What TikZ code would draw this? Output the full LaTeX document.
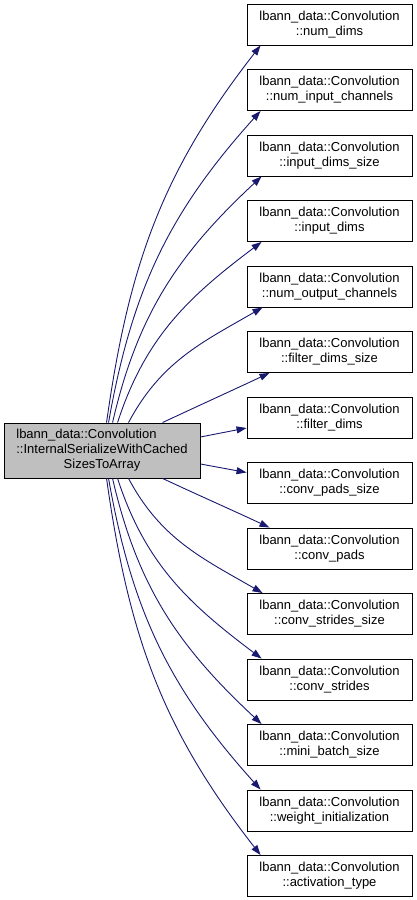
\documentclass[tikz,border=0pt]{standalone}
\usepackage{fontspec}
\setmainfont{Liberation Sans}
\usetikzlibrary{arrows.meta}
\definecolor{edgeblue}{HTML}{191970}
\definecolor{nodegray}{HTML}{BFBFBF}
\begin{document}
\begin{tikzpicture}[x=1pt,y=1pt,
  fnbox/.style={draw=black, line width=0.9pt, fill=white, minimum width=165pt, minimum height=41pt, inner sep=0pt, align=center, font=\fontsize{13}{15}\selectfont},
  mainbox/.style={fnbox, fill=nodegray, minimum width=196pt, minimum height=55pt},
  call/.style={draw=edgeblue, line width=0.9pt, -{Triangle[length=10pt,width=7pt,fill=edgeblue]}}]
\useasboundingbox (0,0) rectangle (416,900);
\node[mainbox] (L) at (102,449.5) {\begin{tabular}{@{}l@{}}lbann\_data::Convolution\\::InternalSerializeWithCached\\\multicolumn{1}{@{}c@{}}{SizesToArray}\end{tabular}};
\node[fnbox] (R0) at (329.5,875.5) {lbann\_data::Convolution\\::num\_dims};
\node[fnbox] (R1) at (329.5,810) {lbann\_data::Convolution\\::num\_input\_channels};
\node[fnbox] (R2) at (329.5,744.5) {lbann\_data::Convolution\\::input\_dims\_size};
\node[fnbox] (R3) at (329.5,679) {lbann\_data::Convolution\\::input\_dims};
\node[fnbox] (R4) at (329.5,613.5) {lbann\_data::Convolution\\::num\_output\_channels};
\node[fnbox] (R5) at (329.5,548) {lbann\_data::Convolution\\::filter\_dims\_size};
\node[fnbox] (R6) at (329.5,482.5) {lbann\_data::Convolution\\::filter\_dims};
\node[fnbox] (R7) at (329.5,417) {lbann\_data::Convolution\\::conv\_pads\_size};
\node[fnbox] (R8) at (329.5,351.5) {lbann\_data::Convolution\\::conv\_pads};
\node[fnbox] (R9) at (329.5,286) {lbann\_data::Convolution\\::conv\_strides\_size};
\node[fnbox] (R10) at (329.5,220.5) {lbann\_data::Convolution\\::conv\_strides};
\node[fnbox] (R11) at (329.5,155) {lbann\_data::Convolution\\::mini\_batch\_size};
\node[fnbox] (R12) at (329.5,89.5) {lbann\_data::Convolution\\::weight\_initialization};
\node[fnbox] (R13) at (329.5,24) {lbann\_data::Convolution\\::activation\_type};
\draw[call] ([xshift=103pt]L.north west) to[out=82,in=232] ([xshift=14pt]R0.south west);
\draw[call] ([xshift=105pt]L.north west) to[out=80,in=228] ([xshift=14pt]R1.south west);
\draw[call] ([xshift=109pt]L.north west) to[out=77,in=223] ([xshift=15pt]R2.south west);
\draw[call] ([xshift=114pt]L.north west) to[out=72,in=217] ([xshift=15pt]R3.south west);
\draw[call] ([xshift=125pt]L.north west) to[out=62,in=210] ([xshift=16pt]R4.south west);
\draw[call] ([xshift=159pt]L.north west) to[out=25,in=205] ([xshift=23pt]R5.south west);
\draw[call] ([yshift=13.5pt]L.east) -- ([yshift=-10.5pt]R6.west);
\draw[call] ([yshift=-13.5pt]L.east) -- ([yshift=10.5pt]R7.west);
\draw[call] ([xshift=159pt]L.south west) to[out=-25,in=155] ([xshift=23pt]R8.north west);
\draw[call] ([xshift=125pt]L.south west) to[out=-62,in=150] ([xshift=16pt]R9.north west);
\draw[call] ([xshift=114pt]L.south west) to[out=-72,in=143] ([xshift=15pt]R10.north west);
\draw[call] ([xshift=109pt]L.south west) to[out=-77,in=137] ([xshift=15pt]R11.north west);
\draw[call] ([xshift=105pt]L.south west) to[out=-80,in=132] ([xshift=14pt]R12.north west);
\draw[call] ([xshift=103pt]L.south west) to[out=-82,in=128] ([xshift=14pt]R13.north west);
\end{tikzpicture}
\end{document}
